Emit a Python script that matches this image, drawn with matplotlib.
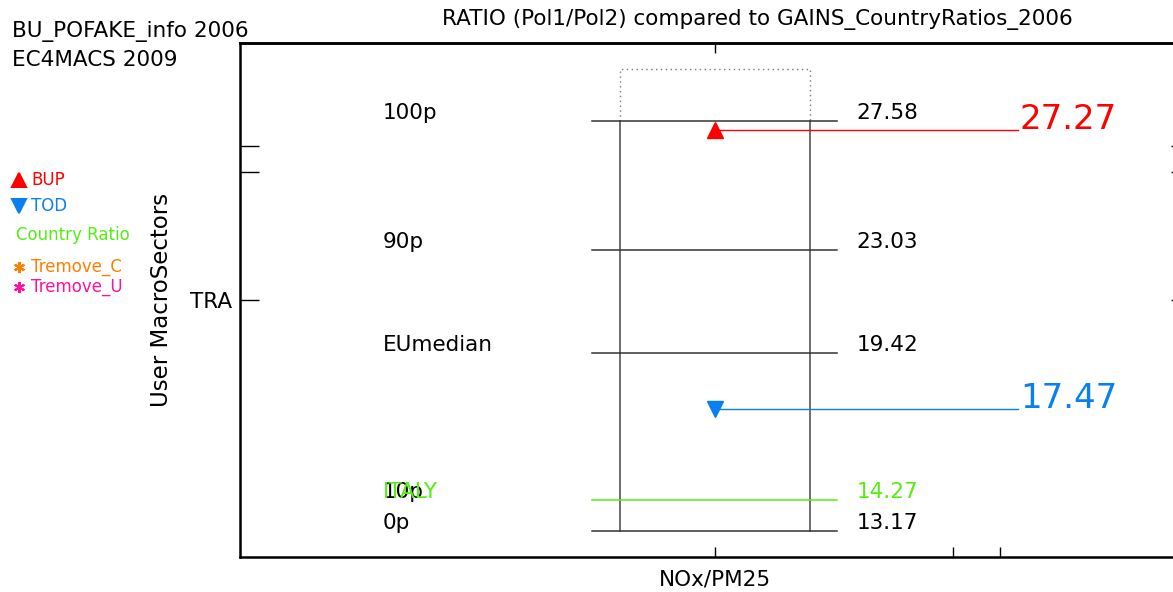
import matplotlib
matplotlib.use("Agg")
import matplotlib.pyplot as plt
from matplotlib.lines import Line2D

# ---------------- data ----------------
stat_labels = ["100p", "90p", "EUmedian", "10p", "0p"]
stat_values = [27.58, 23.03, 19.42, 14.27, 13.17]
country_name = "ITALY"
country_ratio = 14.27
bup_value = 27.27
tod_value = 17.47
dotted_top = 29.41
sector_labels = ["", "", "TRA"]
sector_ticks = [26.70, 25.79, 21.29]
pollutant_label = "NOx/PM25"
legend_items = ["BUP", "TOD", "Country Ratio", "Tremove_C", "Tremove_U"]

RED = "#ff0000"
BLUE = "#0a80f0"
GREEN = "#55ee11"
ORANGE = "#ff7f00"
MAGENTA = "#ff10a0"
GRAY = "#555555"

FS = 15.5

W, H = 1173, 592
fig = plt.figure(figsize=(W / 100, H / 100), dpi=100)
ax = fig.add_axes([240 / W, (H - 557) / H, (1190 - 240) / W, (557 - 43) / H])
ax.set_xlim(-1, 1)
ax.set_ylim(12.256, 30.322)

for s in ax.spines.values():
    s.set_linewidth(1.8)
    s.set_color("black")

# ticks
ax.set_xticks([0, 0.5, 0.6])
ax.set_xticklabels([pollutant_label, "", ""], fontsize=FS)
ax.tick_params(axis="x", direction="in", length=7, width=1, pad=9, top=False)
sec = ax.secondary_xaxis("top")
sec.set_xticks([0])
sec.set_xticklabels([""])
sec.tick_params(direction="in", length=7, width=1)
sec.spines["top"].set_linewidth(1.8)

ax.set_yticks(sector_ticks)
ax.set_yticklabels(sector_labels, fontsize=FS)
ax.tick_params(axis="y", direction="in", length=14, width=1, pad=6, right=True)
for i, t in enumerate(ax.yaxis.get_major_ticks()):
    c = "#999999" if i < 2 else "black"
    t.tick1line.set_color(c)
    t.tick2line.set_color(c)
ax.set_ylabel("User MacroSectors", fontsize=16.5, labelpad=12)

# percentile box
bx0, bx1 = -0.2, 0.2
lx0, lx1 = -0.258, 0.256
top = max(stat_values)
bot = min(stat_values)
ax.plot([bx0, bx0], [bot, top], color=GRAY, lw=1.2)
ax.plot([bx1, bx1], [bot, top], color=GRAY, lw=1.2)
ax.plot([bx0, bx0, bx1, bx1], [top, dotted_top, dotted_top, top],
        color="#777777", lw=1, ls=(0, (1, 2.5)))

for lab, v in zip(stat_labels, stat_values):
    ax.annotate(lab, (-0.7, v), xytext=(0, 1.5), textcoords="offset points",
                fontsize=FS, ha="left", va="baseline", color="black")
    if v == country_ratio:
        continue
    ax.plot([lx0, lx1], [v, v], color="#333333", lw=1.1)
    ax.annotate(f"{v:.2f}", (0.298, v), xytext=(0, 1.5), textcoords="offset points",
                fontsize=FS, ha="left", va="baseline", color="black")

# country ratio
ax.plot([lx0, lx1], [country_ratio, country_ratio], color=GREEN, lw=1.1)
ax.annotate(country_name, (-0.7, country_ratio), xytext=(0, 1.5), textcoords="offset points",
            fontsize=FS, ha="left", va="baseline", color=GREEN)
ax.annotate(f"{country_ratio:.2f}", (0.298, country_ratio), xytext=(0, 1.5),
            textcoords="offset points", fontsize=FS, ha="left", va="baseline", color=GREEN)

# BUP / TOD
for val, col, mk in [(bup_value, RED, "^"), (tod_value, BLUE, "v")]:
    ax.plot([0, 0.638], [val, val], color=col, lw=1)
    ax.plot([0], [val], marker=mk, color=col, markersize=11, ls="none")
    ax.annotate(f"{val:.2f}", (0.642, val), xytext=(0, 0.5), textcoords="offset points",
                fontsize=24.5, ha="left", va="baseline", color=col)

# titles
fig.text(757 / W, 1 - 20 / H, "RATIO (Pol1/Pol2) compared to GAINS_CountryRatios_2006",
         fontsize=FS, ha="center", va="center")
fig.text(12 / W, 1 - 32 / H, "BU_POFAKE_info 2006", fontsize=FS, ha="left", va="center")
fig.text(12 / W, 1 - 60 / H, "EC4MACS 2009", fontsize=FS, ha="left", va="center")

# left legend
leg_y = [180, 206, 235, 267, 287]
leg_col = [RED, BLUE, GREEN, ORANGE, MAGENTA]
leg_mk = ["^", "v", None, (6, 2, 0), (6, 2, 0)]
for name, y, col, mk in zip(legend_items, leg_y, leg_col, leg_mk):
    if mk is None:
        fig.text(16 / W, 1 - y / H, name, fontsize=12, color=col, ha="left", va="center")
    else:
        fig.add_artist(Line2D([19 / W], [1 - y / H], marker=mk, color=col,
                              markersize=10 if mk in ("^", "v") else 8,
                              markeredgewidth=1.5, ls="none", transform=fig.transFigure))
        fig.text(31 / W, 1 - y / H, name, fontsize=12, color=col, ha="left", va="center")

fig.savefig("out.png", dpi=100)
